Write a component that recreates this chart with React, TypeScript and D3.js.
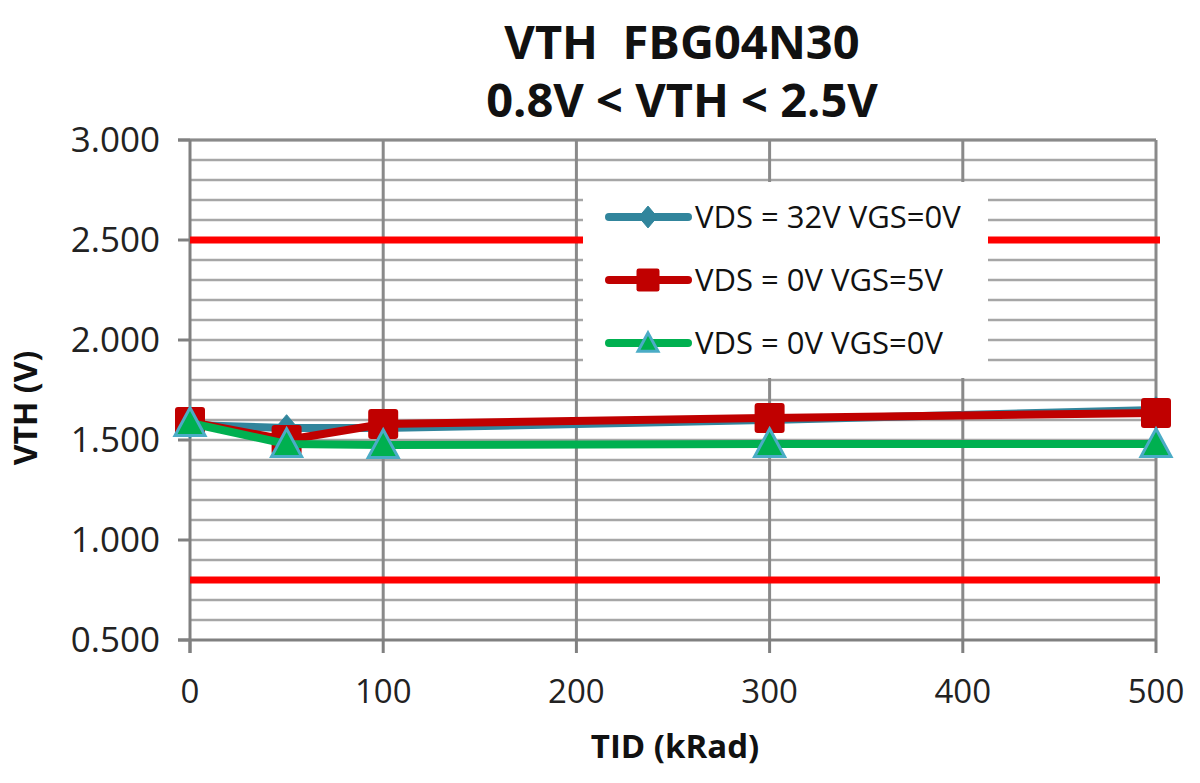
import React from "react";
import * as d3 from "d3";

const doses = [0, 50, 100, 300, 500];
const seriesNames = ["VDS = 32V VGS=0V", "VDS = 0V VGS=5V", "VDS = 0V VGS=0V"];
const vds32vgs0 = [1.575, 1.56, 1.56, 1.6, 1.65];
const vds0vgs5 = [1.59, 1.5, 1.58, 1.61, 1.635];
const vds0vgs0 = [1.585, 1.48, 1.475, 1.48, 1.48];
const limits = [0.8, 2.5];
const yTicks = [0.5, 1.0, 1.5, 2.0, 2.5, 3.0];
const xTicks = [0, 100, 200, 300, 400, 500];
const titleLines = ["VTH  FBG04N30", "0.8V < VTH < 2.5V"];

const colors = ["#31859c", "#c00000", "#00b050"];
const markerTypes = ["diamond", "square", "triangle"];

function Marker({ type, cx, cy, s }: { type: string; cx: number; cy: number; s: number }) {
  if (type === "diamond") {
    const w = s * 0.8, h = s * 0.95;
    return (
      <path
        d={`M${cx},${cy - h / 2}L${cx + w / 2},${cy}L${cx},${cy + h / 2}L${cx - w / 2},${cy}Z`}
        fill="#31859c"
        stroke="#31859c"
        strokeWidth={1}
      />
    );
  }
  if (type === "square") {
    return <rect x={cx - s / 2} y={cy - s / 2} width={s} height={s} rx={s * 0.1} fill="#c00000" />;
  }
  const w = s, h = s * 0.92;
  return (
    <path
      d={`M${cx},${cy - h * 0.55}L${cx + w / 2},${cy + h * 0.45}L${cx - w / 2},${cy + h * 0.45}Z`}
      fill="#00b050"
      stroke="#4bacc6"
      strokeWidth={3}
      strokeLinejoin="miter"
    />
  );
}

export default function App() {
  const x = d3.scaleLinear().domain([0, 500]).range([190, 1156]);
  const y = d3.scaleLinear().domain([0.5, 3.0]).range([640, 140]);
  const minor = d3.range(6, 31).map((v) => v / 10);
  const all = [vds32vgs0, vds0vgs5, vds0vgs0];
  const line = d3
    .line<number>()
    .x((_, i) => x(doses[i]))
    .y((v) => y(v));

  const font = "'Open Sans', 'DejaVu Sans', sans-serif";
  const legendRows = [217, 280, 343];

  return (
    <svg
      width={1200}
      height={783}
      style={{ position: "absolute", left: 0, top: 0, background: "#fff" }}
      fontFamily={font}
    >
      <rect x={0} y={0} width={1200} height={783} fill="#fff" />
      {minor.map((v) => (
        <line key={"h" + v} x1={190} x2={1156} y1={y(v)} y2={y(v)} stroke="#a6a6a6" strokeWidth={2.5} />
      ))}
      {xTicks.slice(1).map((t) => (
        <line key={"v" + t} x1={x(t)} x2={x(t)} y1={140} y2={640} stroke="#8a8a8a" strokeWidth={3} />
      ))}
      <line x1={178} x2={1156} y1={y(3)} y2={y(3)} stroke="#8a8a8a" strokeWidth={3} />
      <line x1={190} x2={190} y1={140} y2={653} stroke="#808080" strokeWidth={3} />
      <line x1={178} x2={1156} y1={640} y2={640} stroke="#808080" strokeWidth={3} />
      {yTicks.map((t) => (
        <line key={"yt" + t} x1={178} x2={190} y1={y(t)} y2={y(t)} stroke="#808080" strokeWidth={3} />
      ))}
      {xTicks.map((t) => (
        <line key={"xt" + t} x1={x(t)} x2={x(t)} y1={640} y2={653} stroke="#808080" strokeWidth={3} />
      ))}
      {limits.map((l) => (
        <line key={"l" + l} x1={190} x2={1160} y1={y(l)} y2={y(l)} stroke="#ff0000" strokeWidth={7} />
      ))}
      <rect x={583} y={182} width={405} height={196} fill="#fff" />
      {seriesNames.map((n, i) => (
        <g key={"lg" + i}>
          <line
            x1={609}
            x2={688}
            y1={legendRows[i]}
            y2={legendRows[i]}
            stroke={colors[i]}
            strokeWidth={8}
            strokeLinecap="round"
          />
          <Marker type={markerTypes[i]} cx={648} cy={legendRows[i]} s={i === 2 ? 20 : 23} />
          <text x={695} y={legendRows[i] + 11} fontSize={31} fill="#111">
            {n}
          </text>
        </g>
      ))}
      {all.map((s, i) => (
        <g key={"s" + i}>
          <path d={line(s) || ""} fill="none" stroke={colors[i]} strokeWidth={8} strokeLinejoin="round" />
          {s.map((v, j) => (
            <Marker key={j} type={markerTypes[i]} cx={x(doses[j])} cy={y(v)} s={i === 0 ? 28 : 30} />
          ))}
        </g>
      ))}
      {yTicks.map((t) => (
        <text key={"yl" + t} x={160} y={y(t) + 12} textAnchor="end" fontSize={35} fill="#222">
          {d3.format(".3f")(t)}
        </text>
      ))}
      {xTicks.map((t) => (
        <text key={"xl" + t} x={x(t)} y={703} textAnchor="middle" fontSize={33} fill="#222">
          {t}
        </text>
      ))}
      {titleLines.map((tl, i) => (
        <text
          key={"t" + i}
          x={682}
          y={59 + i * 58}
          textAnchor="middle"
          fontSize={47}
          fontWeight="bold"
          fill="#111"
          style={{ whiteSpace: "pre" }}
        >
          {tl}
        </text>
      ))}
      <text x={675} y={758} textAnchor="middle" fontSize={33} fontWeight="bold" fill="#111">
        TID (kRad)
      </text>
      <text
        transform={`translate(37,408) rotate(-90)`}
        textAnchor="middle"
        fontSize={32}
        fontWeight="bold"
        fill="#111"
      >
        VTH (V)
      </text>
    </svg>
  );
}
